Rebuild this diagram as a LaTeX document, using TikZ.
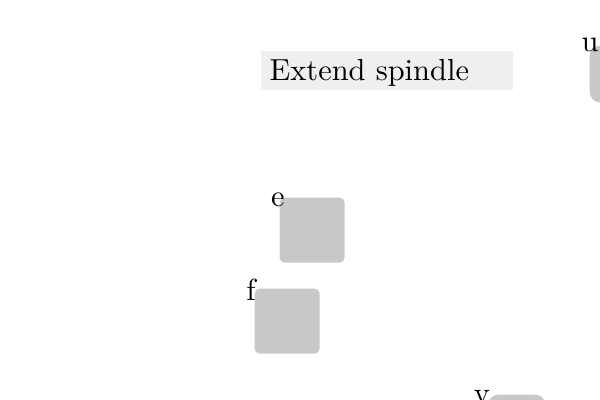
\documentclass[tikz,border=0pt]{standalone}
\begin{document}
\begin{tikzpicture}[x=0.33333pt,y=-0.33333pt,
  every node/.style={font=\fontsize{10.15}{12}\selectfont},
  box/.style={fill=boxgray, draw=none, rounded corners=1.667pt, anchor=north west, inner sep=0pt},
  panel/.style={fill=panelgray, draw=none, anchor=north west, inner xsep=3pt, inner ysep=1.667pt,
    text height=8.333pt, text depth=1.333pt, text width=78pt, align=left},
  lab/.style={inner sep=0pt}]
\definecolor{boxgray}{HTML}{C8C8C8}
\definecolor{panelgray}{HTML}{EFEFEF}
\useasboundingbox (0,0) rectangle (600,400);
\node[panel] (title) at (260,50) {Extend spindle};
\node[box, minimum width=21.667pt, minimum height=21.667pt] (e) at (279,197) {};
\node[box, minimum width=21.667pt, minimum height=21.667pt] (f) at (254,288) {};
\node[box, rounded corners=3.667pt, minimum width=20pt, minimum height=19pt] (u) at (589,45) {};
\node[box, rounded corners=3.667pt, minimum width=19.333pt, minimum height=13.333pt] (v) at (487,394) {};
\node[lab] (le) at (278,200) {e};
\node[lab] (lf) at (251,290) {f};
\node[lab] (lu) at (590,45) {u};
\node[lab] (lv) at (482,397) {v};
\end{tikzpicture}
\end{document}
